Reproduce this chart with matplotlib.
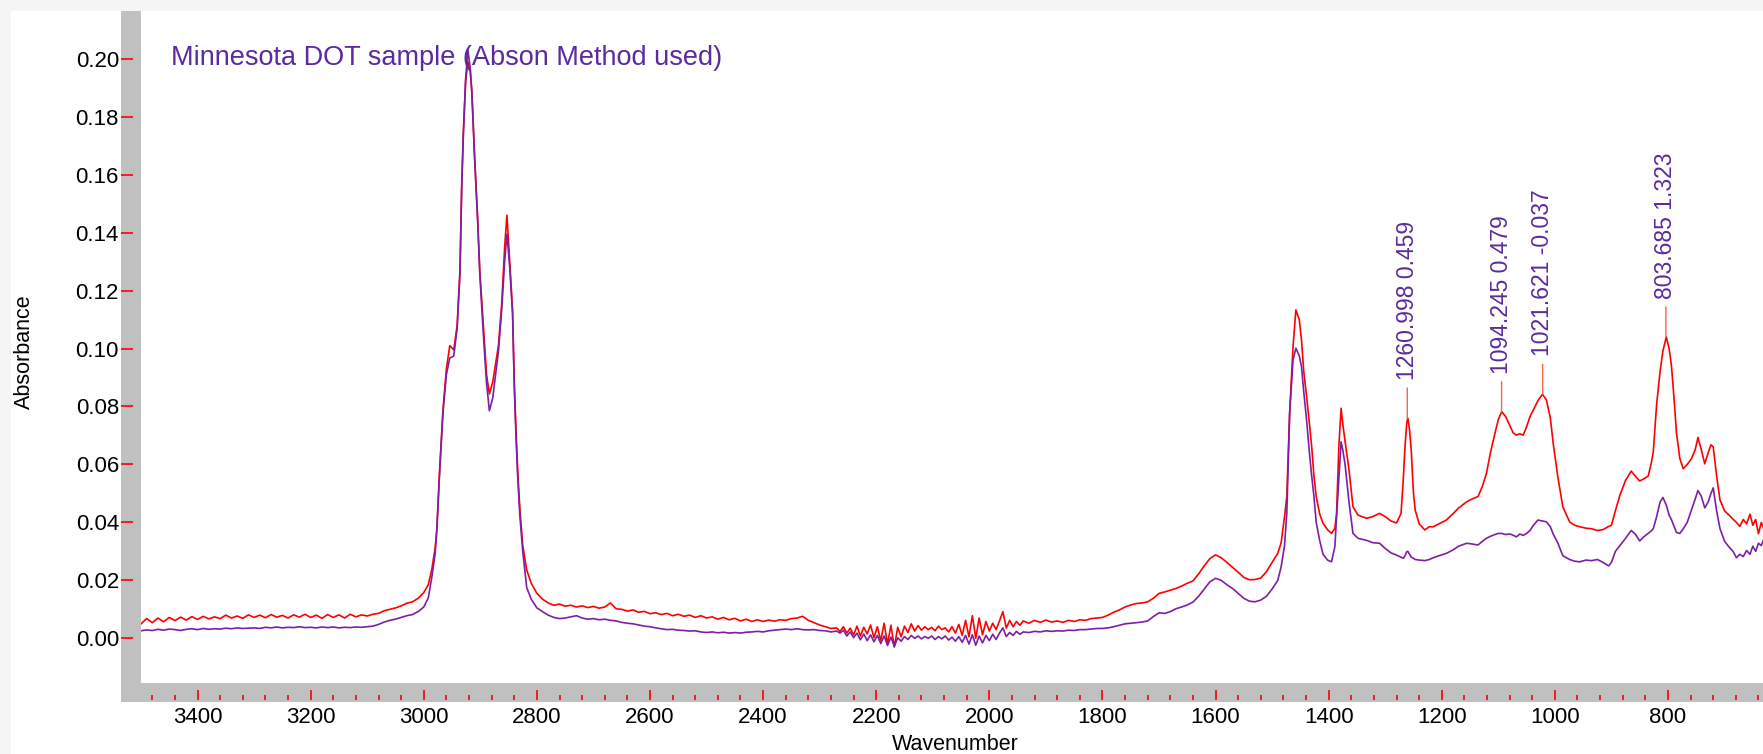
import numpy as np
import matplotlib as mpl
import matplotlib.pyplot as plt
from matplotlib.patches import Rectangle
from matplotlib.ticker import MultipleLocator
# -------------------------------------------------------------------------------------------------

mpl.use('AGG')
plt.rcParams['font.family'] = ['Liberation Sans', 'DejaVu Sans']

# Spectrum values (wavenumber, red trace, purple trace)
wavenumber = [
	3500, 3490, 3480, 3470, 3460, 3450, 3440, 3430, 3420, 3410,
	3400, 3390, 3380, 3370, 3360, 3350, 3340, 3330, 3320, 3310,
	3300, 3290, 3280, 3270, 3260, 3250, 3240, 3230, 3220, 3210,
	3200, 3190, 3180, 3170, 3160, 3150, 3140, 3130, 3120, 3110,
	3100, 3090, 3080, 3070, 3060,
	3050, 3040, 3030, 3020, 3010, 3000, 2992, 2986, 2980, 2977,
	2972, 2966, 2960, 2954, 2947, 2941, 2936, 2933, 2930, 2926,
	2922, 2918, 2915, 2910, 2905, 2901, 2895, 2889, 2884, 2878,
	2868, 2862, 2857, 2853, 2848, 2843, 2840, 2837, 2834, 2830,
	2825, 2818, 2810, 2800, 2790, 2780, 2770, 2760, 2750, 2740,
	2730, 2720, 2710, 2700, 2690, 2680, 2670, 2660, 2650, 2640,
	2630, 2620, 2610, 2600,
	2590, 2580, 2570, 2560, 2550, 2540, 2530, 2520, 2510, 2500,
	2490, 2480, 2470, 2460, 2450, 2440, 2430, 2420, 2410, 2400,
	2390, 2380, 2370, 2360, 2350, 2340, 2330, 2320, 2310, 2300,
	2290, 2280,
	2270, 2264, 2258, 2252, 2246, 2240, 2234, 2228, 2222, 2216,
	2210, 2204, 2198, 2192, 2186, 2180, 2174, 2168, 2162, 2156,
	2150, 2144, 2138, 2132, 2126, 2120, 2114, 2108, 2102, 2096,
	2090, 2084, 2078, 2072, 2066, 2060, 2054, 2048, 2042, 2036,
	2030, 2024, 2018, 2012, 2006, 2000, 1994, 1988, 1982, 1976,
	1970, 1964, 1958, 1952, 1946, 1940,
	1930, 1920, 1910, 1900, 1890, 1880, 1870, 1860, 1850, 1840,
	1830, 1820, 1810, 1800, 1790, 1780, 1770, 1760, 1750, 1740,
	1730, 1720, 1710, 1700, 1690, 1680, 1670, 1660, 1650, 1640,
	1630, 1620, 1610, 1600, 1590, 1580, 1570, 1560, 1550, 1540,
	1530, 1520, 1510, 1500, 1490, 1484, 1478, 1474, 1469, 1463,
	1458, 1452, 1448, 1444, 1439, 1434, 1430, 1426, 1422, 1416,
	1410, 1402, 1395, 1389, 1386, 1382, 1378, 1375, 1371, 1364,
	1357, 1348, 1333, 1322, 1310, 1300, 1290, 1280, 1272, 1268,
	1265, 1262, 1260, 1257, 1254, 1250, 1247, 1240, 1230, 1222,
	1215, 1205, 1192, 1180, 1170, 1156, 1145, 1136, 1128, 1121,
	1114, 1106, 1100, 1094, 1087, 1080, 1074, 1068, 1062, 1056,
	1050, 1044, 1038, 1030, 1022, 1015, 1008, 1003, 995, 986,
	974, 965, 956, 945, 935, 925, 915, 905, 900, 893,
	885, 875, 865, 858, 850, 843, 835, 830, 826, 820,
	814, 809, 803, 798, 794, 789, 785, 779, 773, 766,
	759, 752, 747, 741, 735, 729, 724, 720, 714, 708,
	700, 692, 685, 679, 673, 667, 661, 655, 650, 645,
	640, 635, 630,
]

absorbance_red = [
	0.0050, 0.0068, 0.0054, 0.0070, 0.0057, 0.0072, 0.0061, 0.0073, 0.0063, 0.0075,
	0.0065, 0.0076, 0.0067, 0.0074, 0.0068, 0.0080, 0.0070, 0.0077, 0.0069, 0.0081,
	0.0072, 0.0080, 0.0071, 0.0082, 0.0073, 0.0079, 0.0070, 0.0081, 0.0073, 0.0083,
	0.0072, 0.0080, 0.0069, 0.0082, 0.0072, 0.0081, 0.0070, 0.0083, 0.0074, 0.0081,
	0.0077, 0.0083, 0.0086, 0.0095, 0.0100,
	0.0105, 0.0112, 0.0121, 0.0126, 0.0138, 0.0158, 0.0185, 0.0236, 0.0310, 0.0374,
	0.0580, 0.0790, 0.0930, 0.1010, 0.0995, 0.1080, 0.1270, 0.1560, 0.1747, 0.1920,
	0.1990, 0.1960, 0.1890, 0.1660, 0.1460, 0.1270, 0.1090, 0.0910, 0.0843, 0.0885,
	0.1010, 0.1160, 0.1350, 0.1460, 0.1300, 0.1130, 0.0885, 0.0720, 0.0580, 0.0443,
	0.0320, 0.0236, 0.0190, 0.0155, 0.0135, 0.0122, 0.0114, 0.0118, 0.0111, 0.0114,
	0.0108, 0.0112, 0.0106, 0.0110, 0.0104, 0.0108, 0.0122, 0.0102, 0.0100, 0.0094,
	0.0098, 0.0090, 0.0093, 0.0085,
	0.0088, 0.0082, 0.0086, 0.0078, 0.0083, 0.0076, 0.0080, 0.0072, 0.0078, 0.0070,
	0.0074, 0.0066, 0.0072, 0.0064, 0.0069, 0.0060, 0.0066, 0.0058, 0.0064, 0.0058,
	0.0063, 0.0059, 0.0064, 0.0062, 0.0068, 0.0070, 0.0076, 0.0062, 0.0054, 0.0046,
	0.0040, 0.0034,
	0.0036, 0.0024, 0.0040, 0.0018, 0.0035, 0.0012, 0.0042, 0.0008, 0.0038, 0.0015,
	0.0046, 0.0002, 0.0040, -0.0008, 0.0052, -0.0020, 0.0045, -0.0030, 0.0038, 0.0005,
	0.0042, 0.0020, 0.0050, 0.0025, 0.0044, 0.0028, 0.0040, 0.0030, 0.0038, 0.0026,
	0.0042, 0.0030, 0.0036, 0.0022, 0.0040, 0.0018, 0.0048, 0.0010, 0.0062, 0.0005,
	0.0078, 0.0000, 0.0070, 0.0012, 0.0058, 0.0025, 0.0052, 0.0030, 0.0060, 0.0092,
	0.0035, 0.0062, 0.0040, 0.0058, 0.0045, 0.0060,
	0.0052, 0.0062, 0.0055, 0.0063, 0.0056, 0.0060, 0.0055, 0.0062, 0.0058, 0.0064,
	0.0062, 0.0068, 0.0070, 0.0072, 0.0080, 0.0090, 0.0098, 0.0108, 0.0115, 0.0120,
	0.0122, 0.0126, 0.0138, 0.0155, 0.0160, 0.0166, 0.0172, 0.0180, 0.0190, 0.0198,
	0.0222, 0.0250, 0.0275, 0.0288, 0.0278, 0.0262, 0.0245, 0.0228, 0.0210, 0.0202,
	0.0203, 0.0208, 0.0230, 0.0262, 0.0293, 0.0330, 0.0420, 0.0489, 0.0776, 0.1006,
	0.1133, 0.1100, 0.1029, 0.0920, 0.0834, 0.0740, 0.0661, 0.0560, 0.0489, 0.0430,
	0.0397, 0.0375, 0.0362, 0.0380, 0.0431, 0.0661, 0.0794, 0.0740, 0.0680, 0.0581,
	0.0454, 0.0425, 0.0414, 0.0420, 0.0431, 0.0420, 0.0405, 0.0398, 0.0431, 0.0550,
	0.0661, 0.0742, 0.0760, 0.0720, 0.0650, 0.0500, 0.0443, 0.0395, 0.0374, 0.0385,
	0.0385, 0.0395, 0.0408, 0.0430, 0.0450, 0.0471, 0.0482, 0.0489, 0.0525, 0.0569,
	0.0640, 0.0707, 0.0755, 0.0782, 0.0765, 0.0735, 0.0710, 0.0701, 0.0706, 0.0701,
	0.0730, 0.0765, 0.0788, 0.0820, 0.0842, 0.0823, 0.0760, 0.0673, 0.0560, 0.0454,
	0.0402, 0.0390, 0.0385, 0.0380, 0.0378, 0.0372, 0.0375, 0.0386, 0.0390, 0.0440,
	0.0494, 0.0545, 0.0577, 0.0560, 0.0543, 0.0550, 0.0560, 0.0600, 0.0643, 0.0809,
	0.0920, 0.0991, 0.1040, 0.1000, 0.0943, 0.0820, 0.0709, 0.0620, 0.0585, 0.0600,
	0.0618, 0.0650, 0.0693, 0.0650, 0.0602, 0.0640, 0.0668, 0.0660, 0.0560, 0.0477,
	0.0440, 0.0425, 0.0411, 0.0400, 0.0386, 0.0410, 0.0395, 0.0428, 0.0390, 0.0410,
	0.0361, 0.0400, 0.0375,
]

absorbance_purple = [
	0.0026, 0.0029, 0.0027, 0.0031, 0.0028, 0.0032, 0.0030, 0.0027, 0.0031, 0.0033,
	0.0030, 0.0034, 0.0031, 0.0033, 0.0032, 0.0035, 0.0033, 0.0036, 0.0034, 0.0035,
	0.0036, 0.0034, 0.0038, 0.0036, 0.0039, 0.0036, 0.0038, 0.0037, 0.0040, 0.0037,
	0.0038, 0.0036, 0.0039, 0.0037, 0.0039, 0.0036, 0.0038, 0.0037, 0.0039, 0.0038,
	0.0040, 0.0042, 0.0048, 0.0056, 0.0062,
	0.0066, 0.0072, 0.0078, 0.0082, 0.0092, 0.0108, 0.0140, 0.0208, 0.0290, 0.0370,
	0.0570, 0.0780, 0.0910, 0.0967, 0.0974, 0.1070, 0.1260, 0.1550, 0.1740, 0.1930,
	0.2030, 0.1970, 0.1880, 0.1650, 0.1450, 0.1260, 0.1060, 0.0880, 0.0785, 0.0830,
	0.0990, 0.1140, 0.1300, 0.1395, 0.1280, 0.1120, 0.0870, 0.0700, 0.0560, 0.0420,
	0.0300, 0.0175, 0.0135, 0.0105, 0.0092, 0.0080, 0.0072, 0.0068, 0.0070, 0.0074,
	0.0078, 0.0070, 0.0066, 0.0068, 0.0064, 0.0066, 0.0062, 0.0060, 0.0055, 0.0052,
	0.0050, 0.0046, 0.0042, 0.0040,
	0.0036, 0.0033, 0.0030, 0.0031, 0.0028, 0.0027, 0.0025, 0.0026, 0.0022, 0.0020,
	0.0022, 0.0019, 0.0021, 0.0018, 0.0020, 0.0018, 0.0021, 0.0022, 0.0024, 0.0022,
	0.0026, 0.0028, 0.0030, 0.0032, 0.0030, 0.0033, 0.0030, 0.0029, 0.0030, 0.0027,
	0.0026, 0.0022,
	0.0025, 0.0018, 0.0028, 0.0008, 0.0022, 0.0002, 0.0018, -0.0005, 0.0015, -0.0008,
	0.0012, -0.0012, 0.0010, -0.0018, 0.0008, -0.0025, 0.0004, -0.0028, 0.0002, -0.0010,
	0.0006, -0.0004, 0.0010, 0.0000, 0.0008, -0.0002, 0.0006, 0.0000, 0.0008, -0.0004,
	0.0006, -0.0002, 0.0008, -0.0006, 0.0004, -0.0010, 0.0006, -0.0014, 0.0010, -0.0020,
	0.0012, -0.0024, 0.0008, -0.0016, 0.0010, -0.0008, 0.0014, -0.0004, 0.0018, 0.0036,
	0.0006, 0.0020, 0.0010, 0.0024, 0.0014, 0.0022,
	0.0020, 0.0024, 0.0022, 0.0026, 0.0024, 0.0026, 0.0025, 0.0028, 0.0027, 0.0030,
	0.0030, 0.0032, 0.0034, 0.0034, 0.0036, 0.0040, 0.0045, 0.0050, 0.0052, 0.0054,
	0.0056, 0.0060, 0.0075, 0.0088, 0.0086, 0.0092, 0.0102, 0.0108, 0.0115, 0.0125,
	0.0145, 0.0170, 0.0195, 0.0207, 0.0200, 0.0185, 0.0172, 0.0155, 0.0138, 0.0128,
	0.0126, 0.0132, 0.0145, 0.0170, 0.0200, 0.0247, 0.0320, 0.0431, 0.0776, 0.0960,
	0.1001, 0.0975, 0.0937, 0.0850, 0.0753, 0.0640, 0.0560, 0.0489, 0.0400, 0.0339,
	0.0290, 0.0270, 0.0264, 0.0316, 0.0420, 0.0546, 0.0678, 0.0650, 0.0600, 0.0470,
	0.0362, 0.0345, 0.0338, 0.0330, 0.0328, 0.0310, 0.0295, 0.0287, 0.0280, 0.0276,
	0.0285, 0.0299, 0.0300, 0.0290, 0.0280, 0.0276, 0.0272, 0.0270, 0.0268, 0.0272,
	0.0278, 0.0285, 0.0293, 0.0305, 0.0318, 0.0328, 0.0325, 0.0322, 0.0335, 0.0345,
	0.0352, 0.0358, 0.0362, 0.0362, 0.0358, 0.0360, 0.0356, 0.0350, 0.0360, 0.0355,
	0.0362, 0.0372, 0.0390, 0.0408, 0.0405, 0.0402, 0.0385, 0.0360, 0.0330, 0.0285,
	0.0272, 0.0266, 0.0264, 0.0270, 0.0268, 0.0272, 0.0262, 0.0250, 0.0262, 0.0300,
	0.0320, 0.0345, 0.0372, 0.0360, 0.0336, 0.0350, 0.0362, 0.0370, 0.0378, 0.0420,
	0.0470, 0.0486, 0.0460, 0.0425, 0.0410, 0.0385, 0.0365, 0.0362, 0.0378, 0.0400,
	0.0440, 0.0480, 0.0510, 0.0490, 0.0450, 0.0470, 0.0500, 0.0519, 0.0440, 0.0378,
	0.0335, 0.0315, 0.0300, 0.0278, 0.0290, 0.0282, 0.0303, 0.0290, 0.0318, 0.0300,
	0.0328, 0.0320, 0.0345,
]

# Peak labels (position, printed value) and the red peak height under each label
peak_wavenumber = [1260.998, 1094.245, 1021.621, 803.685]
peak_label_value = [0.459, 0.479, -0.037, 1.323]
peak_height = [0.0760, 0.0782, 0.0842, 0.1040]

title = 'Minnesota DOT sample (Abson Method used)'

# -------------------------------------------------------------------------------------------------
W, H = 1763, 754
fig = plt.figure(figsize=(W / 100, H / 100), dpi=100, facecolor='white')

def _px_rect(x0, y0, x1, y1, color):
	# rectangle given in pixel coords measured from the top-left corner
	fig.patches.append(Rectangle((x0 / W, 1 - y1 / H), (x1 - x0) / W, (y1 - y0) / H,
		transform=fig.transFigure, facecolor=color, edgecolor='none', zorder=-5))

# Outer frame and grey axis bands
_px_rect(0, 0, W, 11, '#f5f5f5')
_px_rect(0, 0, 11, H, '#f5f5f5')
_px_rect(121, 11, 141, 702, '#c0c0c0')
_px_rect(121, 683, W, 702, '#c0c0c0')

ax1 = fig.add_axes([141 / W, (H - 683) / H, (W - 141) / W, (683 - 11) / H])
ax1.set_facecolor('white')

ax1.plot(wavenumber, absorbance_red, color='#ff0000', linewidth=1.2)
ax1.plot(wavenumber, absorbance_purple, color='#7d1fa5', linewidth=1.2)

ax1.set_xlim(3500, 632)
ax1.set_ylim(-0.01542, 0.21646)

# Peak markers
for (wn, val, hgt) in zip(peak_wavenumber, peak_label_value, peak_height):
	ax1.annotate('', xy=(wn, hgt), xytext=(0, 30), textcoords='offset pixels',
		arrowprops=dict(arrowstyle='-', color='#f26846', linewidth=1.0,
			shrinkA=0, shrinkB=0))
	ax1.annotate(f'{wn:.3f} {val:.3f}', xy=(wn, hgt), xytext=(0, 38),
		textcoords='offset pixels', rotation=90, ha='center', va='bottom',
		fontsize=16.5, color='#5b2a9e')

# Axes styling
for s in ax1.spines.values():
	s.set_visible(False)
ax1.spines['left'].set_position(('outward', 5.76))
ax1.spines['bottom'].set_position(('outward', 12.24))

ax1.yaxis.set_major_locator(MultipleLocator(0.02))
ax1.yaxis.set_major_formatter('{x:.2f}')
ax1.xaxis.set_major_locator(MultipleLocator(200))
ax1.xaxis.set_minor_locator(MultipleLocator(40))
ax1.xaxis.set_major_formatter('{x:.0f}')

ax1.tick_params(axis='y', which='major', direction='out', length=8.64, width=1.2,
	color='#ff0000', pad=1.44, labelsize=16, labelcolor='black')
ax1.tick_params(axis='x', which='major', direction='in', length=7.2, width=1.2,
	color='#ff0000', pad=5.0, labelsize=16, labelcolor='black')
ax1.tick_params(axis='x', which='minor', direction='in', length=3.6, width=1.2,
	color='#ff0000')

# Labels
fig.text(171 / W, 1 - 65 / H, title, fontsize=19.5, color='#5b2a9e', va='baseline')
fig.text(24 / W, 1 - 352 / H, 'Absorbance', rotation=90, fontsize=15.5,
	ha='center', va='center')
fig.text(955 / W, 1 - 745 / H, 'Wavenumber', fontsize=15.5, ha='center', va='center')

fig.savefig('out.png', dpi=100)
plt.close()
